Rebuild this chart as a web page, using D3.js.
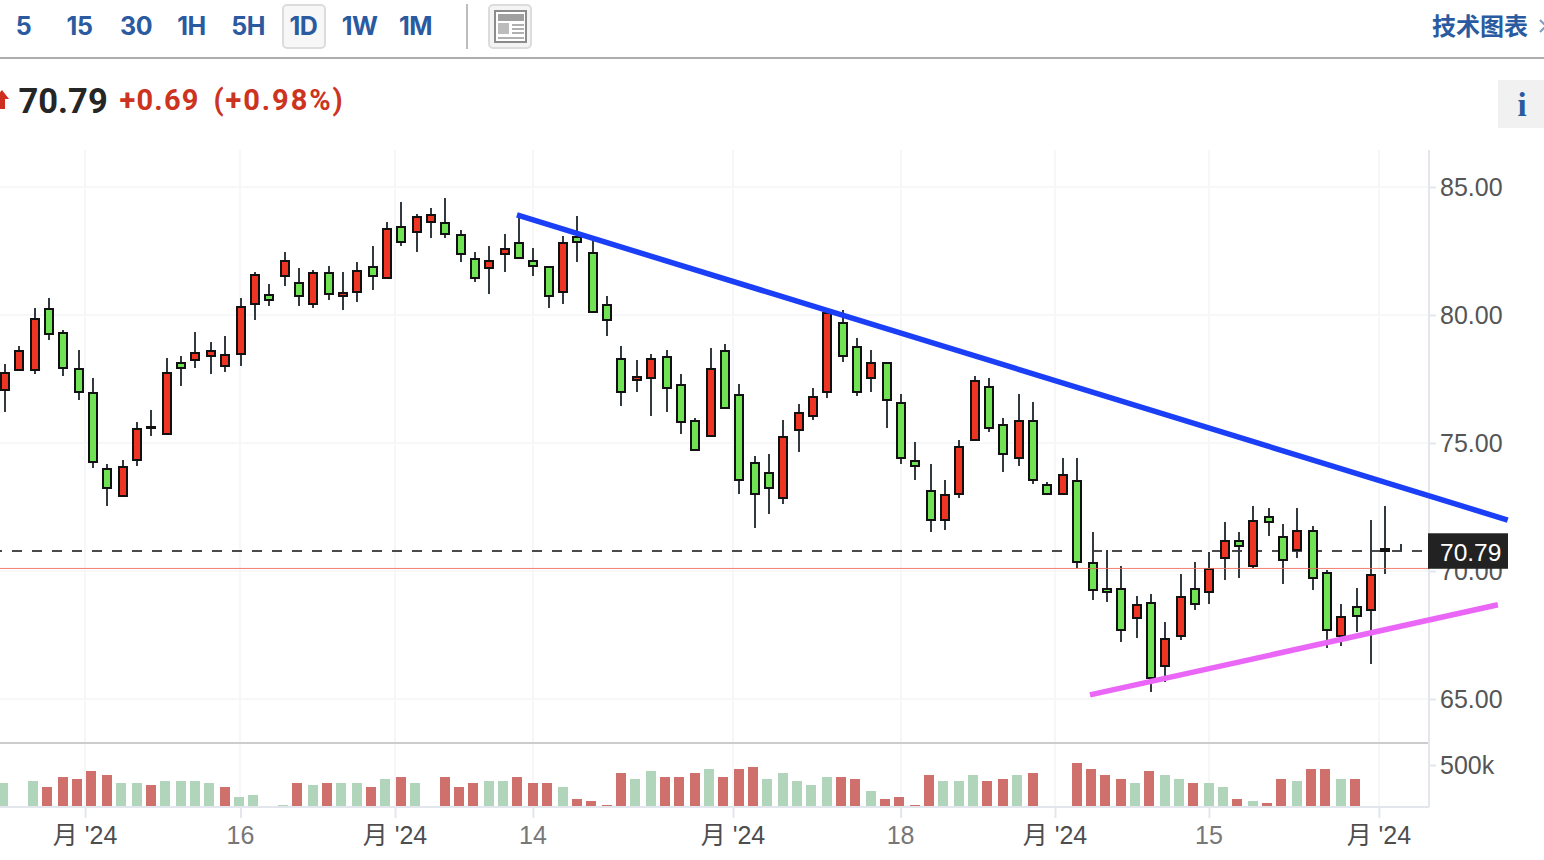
<!DOCTYPE html>
<html>
<head>
<meta charset="utf-8">
<script src="https://cdnjs.cloudflare.com/ajax/libs/d3/7.8.5/d3.min.js"></script>
<style>
  html, body { margin: 0; padding: 0; background: #fff; overflow: hidden; }
  text { font-family: "Liberation Sans", "Noto Sans CJK SC", sans-serif; }
</style>
</head>
<body>
<div id="chart"></div>
<script>
const intervals = ['5', '15', '30', '1H', '5H', '1D', '1W', '1M'];

const opens = [77.02,77.80,77.80,80.25,79.31,77.90,76.96,74.00,72.88,74.29,75.54,75.30,78.14,78.19,78.35,77.96,
  78.43,80.38,80.79,81.47,81.26,80.38,81.65,80.69,80.85,81.89,81.39,83.45,83.19,83.58,83.61,83.14,
  82.20,81.79,82.33,82.82,82.12,81.89,80.85,83.06,82.43,80.40,78.29,77.41,77.49,78.37,77.28,75.87,
  75.22,78.61,76.89,74.23,73.84,72.80,75.46,76.00,76.94,79.70,78.76,77.49,78.14,76.57,74.31,73.14,
  71.94,72.96,75.07,77.20,75.71,74.36,75.87,73.37,72.96,73.53,70.32,69.31,69.31,68.11,68.76,66.24,
  67.41,69.31,69.13,70.46,71.18,70.14,72.12,71.34,70.77,71.57,69.93,67.43,68.61,68.43,70.76,70.79];
const closes = [77.75,78.61,79.86,79.21,77.88,76.94,74.21,73.19,74.07,75.56,75.64,77.75,77.88,78.53,78.61,78.45,
  80.32,81.57,80.54,82.12,80.69,81.65,80.77,80.87,81.73,81.47,83.37,82.80,83.84,83.92,83.11,82.33,
  81.39,82.12,82.59,82.18,81.86,80.69,82.82,82.80,80.07,79.75,76.94,77.59,78.29,77.10,75.77,74.68,
  77.90,76.32,73.50,72.96,73.19,75.25,76.18,76.81,80.09,78.35,76.94,78.14,76.63,74.36,74.05,71.94,
  72.98,74.86,77.43,75.54,74.52,75.87,73.50,72.96,73.76,70.30,69.21,69.13,67.64,68.68,65.77,67.36,
  69.00,68.66,70.09,71.18,70.93,71.96,71.86,70.38,71.57,69.68,67.64,68.21,68.19,69.86,70.88,70.79];
const highs = [78.09,78.79,80.27,80.66,79.41,78.63,77.54,74.18,74.34,75.82,76.29,78.32,78.40,79.34,78.95,79.18,
  80.66,81.68,81.21,82.46,81.84,81.76,81.91,81.68,82.07,82.70,83.63,84.41,83.95,84.18,84.57,83.32,
  82.46,82.70,83.16,83.91,82.62,81.89,83.09,83.87,82.93,80.74,78.79,78.24,78.48,78.63,77.70,75.98,
  78.71,78.87,77.30,74.49,74.57,75.90,76.52,77.15,80.12,80.20,79.10,78.63,78.14,76.91,75.04,74.18,
  73.55,75.12,77.62,77.54,75.98,76.91,76.60,73.48,74.41,74.41,71.52,70.82,70.20,69.02,69.10,68.01,
  69.88,70.35,70.74,71.91,71.52,72.54,72.46,71.84,72.46,71.76,70.04,68.71,69.34,71.99,72.54,71.05];
const lows = [76.22,77.80,77.71,79.02,77.63,76.68,74.04,72.54,72.88,74.10,75.27,75.30,77.23,77.93,77.70,77.77,
  78.01,79.80,80.35,81.13,80.35,80.27,80.59,80.20,80.51,80.98,81.39,82.70,82.46,83.01,83.01,82.07,
  81.29,80.82,81.68,82.18,81.52,80.27,80.43,82.07,80.07,79.18,76.45,76.99,76.05,76.21,75.35,74.68,
  75.22,76.32,73.01,71.68,72.23,72.62,74.65,75.90,76.76,78.16,76.84,76.99,75.59,74.18,73.55,71.52,
  71.60,72.85,75.07,75.43,73.87,74.10,73.40,72.96,72.96,70.12,68.87,68.79,67.23,67.38,65.27,65.66,
  67.30,68.48,68.71,69.65,69.73,70.12,71.37,69.49,70.51,69.26,66.99,67.07,67.62,66.37,69.88,70.78];

// volume in thousands, 0 where the picture shows no bar
const volumes = [280,0,305,232,354,329,427,378,280,280,256,305,305,305,280,232,
  110,134,0,12,280,256,280,280,280,232,329,354,280,0,354,232,
  280,305,305,354,280,280,232,85,61,12,402,329,427,354,354,402,
  451,354,451,476,329,402,305,256,354,354,329,183,85,110,12,378,
  305,305,378,305,329,378,402,0,0,524,451,378,329,280,427,378,
  329,280,280,232,85,61,37,329,305,451,451,329,329,0,0,0];
// 1 = red bar, 0 = green bar
const volumeUp = [0,0,0,1,1,1,1,1,0,0,1,0,0,0,0,1,
  0,0,0,0,1,0,1,0,0,1,0,1,0,0,1,1,
  1,0,0,1,1,1,0,1,1,1,1,0,0,1,1,1,
  0,1,1,1,0,0,0,0,0,1,1,0,1,1,1,1,
  0,0,0,1,1,0,1,0,0,1,1,1,1,0,1,0,
  0,1,0,0,1,0,1,1,0,1,1,0,1,0,0,0];

const priceTicks = [85, 80, 75, 70, 65];
const volumeTicks = [500000];
const timeTicks = [5.45, 16.03, 26.55, 35.94, 49.56, 60.97, 71.48, 81.96, 93.53];
const timeLabels = ["月 '24", '16', "月 '24", '14', "月 '24", '18', "月 '24", '15', "月 '24"];

const lastPrice = 70.79;
const prevClose = 70.10;
const change = '+0.69';
const changePct = '(+0.98%)';

// trend lines as [candle index, price]
const resistance = [[34.85, 83.91], [102.3, 71.99]];
const support = [[73.86, 65.16], [101.63, 68.68]];

const width = 1544, height = 860;
const plotRight = 1429;
const priceTop = 150, priceBottom = 743, volBottom = 806;

const svg = d3.select('#chart').append('svg')
  .attr('width', width).attr('height', height)
  .style('display', 'block');

const x = d3.scaleLinear().domain([0, 95]).range([5, 1400.5]);
const y = d3.scaleLinear().domain([65, 85]).range([699, 187]);
const yVol = d3.scaleLinear().domain([0, 500000]).range([volBottom, 765]);
// the source chart snaps candles and bars to odd pixels
const px = i => 2 * Math.round((x(i) - 1) / 2) + 1;
const pxVol = i => 2 * Math.floor((x(i) - 1.2) / 2) + 1;

// header
const blue = '#2a5a9f';
const tabCentres = [23.5, 79.5, 136, 191.5, 248, 303.5, 359.5, 415.5];
const head = svg.append('g');
head.append('rect').attr('x', 283).attr('y', 5).attr('width', 42).attr('height', 43).attr('rx', 4)
  .attr('fill', '#f7f7f7').attr('stroke', '#dcdcdc').attr('stroke-width', 2);
head.selectAll('.tab').data(intervals).enter().append('text')
  .attr('class', 'tab')
  .attr('x', (d, i) => tabCentres[i]).attr('y', 35)
  .attr('text-anchor', 'middle')
  .attr('fill', blue).attr('font-size', 25).attr('font-weight', 700)
  .style('font-family', '"Inter", "Liberation Sans", sans-serif')
  .style('letter-spacing', '-0.5px')
  .text(d => d);
head.append('rect').attr('x', 466).attr('y', 4).attr('width', 2).attr('height', 45).attr('fill', '#bdbdbd');
head.append('rect').attr('x', 489).attr('y', 5).attr('width', 42).attr('height', 43).attr('rx', 4)
  .attr('fill', '#f4f4f4').attr('stroke', '#dcdcdc').attr('stroke-width', 2);
head.append('rect').attr('x', 495).attr('y', 11).attr('width', 31).attr('height', 31)
  .attr('fill', '#fff').attr('stroke', '#8c8c8c').attr('stroke-width', 2);
head.append('rect').attr('x', 498).attr('y', 14).attr('width', 26).attr('height', 7).attr('fill', '#a0a0a0');
head.append('rect').attr('x', 498).attr('y', 23).attr('width', 11).attr('height', 11).attr('fill', '#bcbcbc');
[24, 28, 32].forEach(l => head.append('rect').attr('x', 512).attr('y', l).attr('width', 12).attr('height', 2).attr('fill', '#b0b0b0'));
head.append('rect').attr('x', 498).attr('y', 37).attr('width', 26).attr('height', 2).attr('fill', '#b0b0b0');
head.append('rect').attr('x', 0).attr('y', 57).attr('width', width).attr('height', 2).attr('fill', '#adadad');
head.append('text').attr('x', 1432).attr('y', 35)
  .attr('fill', blue).attr('font-size', 24).attr('font-weight', 700)
  .style('font-family', '"Noto Sans CJK SC", sans-serif')
  .text('技术图表');
head.append('path').attr('d', 'M1540 20 L1546 26 L1540 32').attr('fill', 'none').attr('stroke', '#7f9cc4').attr('stroke-width', 2);

head.append('path').attr('d', 'M-6 99 L2 90 L9 99 L5 99 L5 109 L-6 109 Z').attr('fill', '#cf2f1f');
head.append('text').attr('x', 18.5).attr('y', 112.5)
  .attr('fill', '#262626').attr('font-size', 34.5).attr('font-weight', 700)
  .style('font-family', 'Roboto, "Liberation Sans", sans-serif')
  .text(lastPrice.toFixed(2));
head.append('text').attr('x', 119.5).attr('y', 109.5)
  .attr('fill', '#cc3320').attr('font-size', 29).attr('font-weight', 700)
  .style('font-family', 'Roboto, "Liberation Sans", sans-serif')
  .style('letter-spacing', '1.2px').text(change);
head.append('text').attr('x', 213.5).attr('y', 109.5)
  .attr('fill', '#cc3320').attr('font-size', 29).attr('font-weight', 700)
  .style('font-family', 'Roboto, "Liberation Sans", sans-serif')
  .style('letter-spacing', '1.9px').text(changePct);
head.append('rect').attr('x', 1498).attr('y', 80).attr('width', 46).attr('height', 48).attr('fill', '#f1f1f1');
head.append('text').attr('x', 1522).attr('y', 116).attr('text-anchor', 'middle')
  .attr('fill', blue).attr('font-size', 33).attr('font-weight', 700)
  .style('font-family', '"Liberation Serif", serif').text('i');

// grid
const gridColor = '#f6f7f9';
svg.append('g').selectAll('line').data(priceTicks).enter().append('line')
  .attr('x1', 0).attr('x2', plotRight)
  .attr('y1', d => y(d)).attr('y2', d => y(d))
  .attr('stroke', gridColor).attr('stroke-width', 2);
svg.append('g').selectAll('line').data(timeTicks).enter().append('line')
  .attr('x1', d => Math.round(x(d))).attr('x2', d => Math.round(x(d)))
  .attr('y1', priceTop).attr('y2', volBottom)
  .attr('stroke', gridColor).attr('stroke-width', 2);

// volume
const volBars = d3.range(volumes.length).filter(i => volumes[i] > 0);
svg.append('g').selectAll('rect').data(volBars).enter().append('rect')
  .attr('x', i => pxVol(i) - 5)
  .attr('y', i => Math.round(yVol(volumes[i] * 1000)))
  .attr('width', 10)
  .attr('height', i => volBottom - Math.round(yVol(volumes[i] * 1000)))
  .attr('fill', i => volumeUp[i] ? '#d0706c' : '#b0d5ba');

// axes
const axisColor = '#e3e7ed';
const axisRight = svg.append('g')
  .attr('transform', `translate(${plotRight},0)`)
  .call(d3.axisRight(y).tickValues(priceTicks).tickFormat(d3.format('.2f')).tickSize(7).tickPadding(4));
const axisVol = svg.append('g')
  .attr('transform', `translate(${plotRight},0)`)
  .call(d3.axisRight(yVol).tickValues(volumeTicks).tickFormat(d => (d / 1000) + 'k').tickSize(7).tickPadding(4));
const axisBottom = svg.append('g')
  .attr('transform', `translate(0,${volBottom})`)
  .call(d3.axisBottom(x).tickValues(timeTicks).tickFormat((d, i) => timeLabels[i]).tickSize(12).tickPadding(8));

[axisRight, axisVol, axisBottom].forEach(a => {
  a.select('.domain').remove();
  a.selectAll('line').attr('stroke', axisColor).attr('stroke-width', 2);
  a.selectAll('text').attr('fill', '#555').attr('font-size', 25);
});
axisBottom.selectAll('text').attr('fill', (d, i) => timeLabels[i].length > 2 ? '#4d4d4d' : '#777').attr('dy', '0.7em').attr('dx', -0.5);
axisRight.selectAll('text').attr('dy', '0.32em');
axisVol.selectAll('text').attr('dy', '0.32em');

svg.append('line').attr('x1', 0).attr('x2', plotRight).attr('y1', priceBottom).attr('y2', priceBottom)
  .attr('stroke', '#cccccc').attr('stroke-width', 2);
svg.append('line').attr('x1', plotRight).attr('x2', plotRight).attr('y1', priceTop).attr('y2', volBottom + 1)
  .attr('stroke', axisColor).attr('stroke-width', 2);
svg.append('line').attr('x1', 0).attr('x2', plotRight).attr('y1', volBottom + 1).attr('y2', volBottom + 1)
  .attr('stroke', axisColor).attr('stroke-width', 2);

// last price dashed line goes under the candles
svg.append('line').attr('x1', 0).attr('x2', plotRight).attr('y1', Math.round(y(lastPrice))).attr('y2', Math.round(y(lastPrice)))
  .attr('stroke', '#4a4a4a').attr('stroke-width', 2)
  .attr('stroke-dasharray', '10 10').attr('stroke-dashoffset', 8);

// candles
const candles = svg.append('g').selectAll('g').data(d3.range(opens.length)).enter().append('g');
candles.append('line')
  .attr('x1', i => px(i)).attr('x2', i => px(i))
  .attr('y1', i => Math.round(y(highs[i]))).attr('y2', i => Math.round(y(lows[i])))
  .attr('stroke', '#333a3f').attr('stroke-width', 2);
candles.filter(i => opens[i] !== closes[i]).append('rect')
  .each(function (i) {
    const top = Math.floor(y(Math.max(opens[i], closes[i])));
    const bottom = Math.round(y(Math.min(opens[i], closes[i])));
    const thin = bottom - top < 5;
    d3.select(this)
      .attr('x', thin ? px(i) - 5 : px(i) - 4)
      .attr('width', thin ? 10 : 8)
      .attr('y', thin ? top : top + 1)
      .attr('height', thin ? bottom - top : bottom - top - 2)
      .attr('fill', thin ? '#111' : (closes[i] > opens[i] ? '#ee3524' : '#70e354'))
      .attr('stroke', thin ? 'none' : '#111')
      .attr('stroke-width', 2);
  });

// previous close
svg.append('line').attr('x1', 0).attr('x2', plotRight).attr('y1', y(prevClose)).attr('y2', y(prevClose))
  .attr('stroke', '#ee6a58').attr('stroke-opacity', 0.85).attr('stroke-width', 1);

// trend lines
const trend = d3.line().x(d => x(d[0])).y(d => y(d[1]));
svg.append('path').attr('d', trend(resistance)).attr('fill', 'none')
  .attr('stroke', '#1a3ff6').attr('stroke-width', 5.5);
svg.append('path').attr('d', trend(support)).attr('fill', 'none')
  .attr('stroke', '#ea66f6').attr('stroke-width', 5.5);

// last price tag
svg.append('rect').attr('x', 1428).attr('y', y(lastPrice) - 17.5).attr('width', 80).attr('height', 35.5).attr('fill', '#222');
svg.append('text').attr('x', 1440).attr('y', y(lastPrice) + 10)
  .attr('fill', '#fff').attr('font-size', 24.5).text(lastPrice.toFixed(2));
</script>
</body>
</html>
